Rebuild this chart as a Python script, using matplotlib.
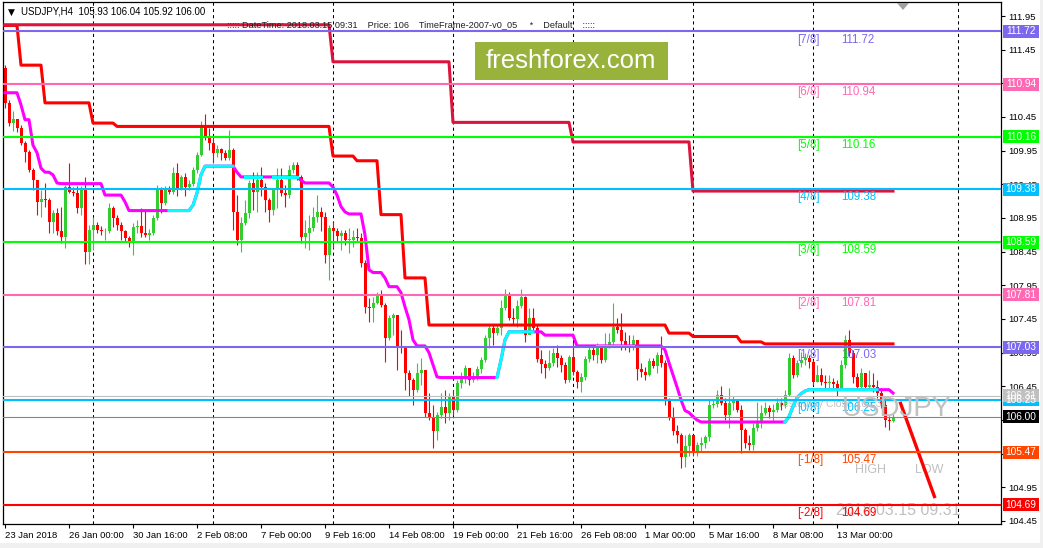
import matplotlib
matplotlib.use("Agg")
import matplotlib.pyplot as plt
import matplotlib.transforms as mtrans
from matplotlib.patches import Rectangle, Polygon
import numpy as np

plt.rcParams['font.family'] = ['Liberation Sans', 'DejaVu Sans']

W, H = 1043, 548

# USDJPY H4 candles (open of each bar = previous close)
first_open = 111.18
closes = [
    110.66, 110.36, 110.42, 110.28, 110.06, 109.93, 109.66, 109.51, 109.19, 109.23,
    109.21, 108.89, 109.03, 108.75, 108.67, 109.41, 109.34, 109.32, 109.10, 109.40,
    108.45, 108.77, 108.85, 108.77, 108.75, 108.75, 109.10, 108.95, 108.85, 108.75,
    108.66, 108.58, 108.82, 108.83, 108.73, 108.70, 108.73, 108.95, 109.37, 109.18,
    109.40, 109.34, 109.62, 109.37, 109.56, 109.41, 109.46, 109.66, 109.89, 110.31,
    110.16, 110.06, 109.92, 109.98, 109.92, 109.84, 109.96, 109.04, 108.62, 108.88,
    109.03, 109.47, 109.34, 109.51, 109.41, 109.22, 109.07, 109.37, 109.51, 109.32,
    109.29, 109.66, 109.74, 109.56, 108.67, 108.73, 108.80, 108.97, 109.04, 108.97,
    108.40, 108.80, 108.75, 108.68, 108.73, 108.62, 108.62, 108.67, 108.66, 108.28,
    107.63, 107.61, 107.69, 107.81, 107.66, 107.17, 107.46, 107.51, 107.03, 107.02,
    106.65, 106.55, 106.40, 106.65, 106.69, 106.06, 106.00, 105.78, 106.03, 106.15,
    106.06, 106.29, 106.10, 106.50, 106.59, 106.72, 106.55, 106.59, 106.71, 106.84,
    107.17, 107.32, 107.24, 107.32, 107.61, 107.81, 107.46, 107.45, 107.64, 107.78,
    107.21, 107.46, 107.32, 106.86, 106.78, 106.72, 106.80, 106.95, 106.87, 106.77,
    106.55, 106.89, 106.67, 106.52, 106.59, 106.86, 106.99, 106.92, 107.02, 106.84,
    107.06, 107.11, 107.33, 107.29, 107.12, 107.06, 107.03, 107.14, 106.71, 106.67,
    106.62, 106.83, 106.75, 106.92, 106.80, 106.25, 106.00, 105.78, 105.73, 105.40,
    105.57, 105.73, 105.48, 105.58, 105.61, 105.69, 106.17, 106.19, 106.32, 106.20,
    106.03, 106.20, 106.25, 106.10, 105.80, 105.61, 105.58, 105.83, 105.91, 106.06,
    106.13, 106.07, 106.10, 106.20, 106.17, 106.32, 106.87, 106.62, 106.80, 106.84,
    106.87, 106.81, 106.52, 106.62, 106.52, 106.50, 106.52, 106.49, 106.40, 106.77,
    107.14, 106.95, 106.59, 106.44, 106.65, 106.44, 106.47, 106.44, 106.35, 106.17,
    105.95, 105.93, 106.00,
]
highs = [
    111.22, 110.70, 110.54, 110.42, 110.33, 110.09, 109.96, 109.69, 109.51, 109.37,
    109.47, 109.25, 109.07, 109.10, 109.12, 109.44, 109.77, 109.41, 109.43, 109.43,
    109.56, 108.85, 108.97, 108.89, 108.83, 108.80, 109.18, 109.13, 109.00, 108.89,
    108.77, 108.68, 108.88, 108.92, 109.10, 109.07, 108.79, 109.00, 109.44, 109.41,
    109.43, 109.43, 109.71, 109.77, 109.59, 109.62, 109.51, 109.71, 109.93, 110.39,
    110.49, 110.28, 110.16, 110.03, 109.99, 109.96, 110.26, 109.99, 109.29, 108.96,
    109.22, 109.51, 109.63, 109.63, 109.71, 109.47, 109.25, 109.40, 109.69, 109.69,
    109.44, 109.74, 109.78, 109.78, 109.59, 108.92, 109.00, 109.12, 109.29, 109.12,
    109.04, 108.85, 108.89, 108.80, 108.77, 108.77, 108.80, 108.77, 108.80, 108.73,
    108.33, 107.76, 107.78, 107.85, 107.88, 107.69, 107.51, 107.54, 107.46, 107.29,
    106.99, 106.69, 106.58, 106.80, 106.87, 106.69, 106.35, 106.17, 106.07, 106.35,
    106.40, 106.35, 106.40, 106.55, 106.66, 106.77, 106.72, 106.66, 106.75, 106.89,
    107.21, 107.36, 107.36, 107.36, 107.73, 107.90, 107.85, 107.61, 107.73, 107.90,
    107.79, 107.61, 107.61, 107.36, 106.99, 106.84, 106.99, 107.02, 107.06, 106.92,
    106.81, 106.92, 107.11, 106.69, 106.65, 106.90, 107.06, 107.04, 107.10, 107.06,
    107.24, 107.24, 107.69, 107.46, 107.54, 107.26, 107.21, 107.21, 107.11, 106.80,
    106.74, 106.87, 106.87, 106.96, 107.20, 106.84, 106.28, 106.15, 105.88, 105.76,
    105.73, 105.76, 105.69, 105.63, 105.69, 105.73, 106.25, 106.25, 106.40, 106.46,
    106.28, 106.43, 106.31, 106.25, 106.17, 105.83, 105.73, 105.91, 106.22, 106.17,
    106.22, 106.17, 106.19, 106.28, 106.28, 106.40, 106.95, 106.92, 106.84, 106.96,
    106.95, 106.92, 106.84, 106.77, 106.72, 106.62, 106.62, 106.58, 106.55, 106.84,
    107.21, 107.29, 106.99, 106.65, 106.72, 106.62, 106.69, 106.65, 106.55, 106.43,
    106.28, 106.01, 106.04,
]
lows = [
    110.58, 110.31, 110.24, 110.22, 110.03, 109.78, 109.63, 109.37, 109.00, 108.97,
    109.12, 108.73, 108.73, 108.70, 108.58, 108.51, 109.32, 109.28, 109.03, 109.00,
    108.27, 108.27, 108.48, 108.73, 108.70, 108.63, 108.72, 108.82, 108.77, 108.63,
    108.60, 108.52, 108.40, 108.73, 108.67, 108.67, 108.63, 108.70, 108.92, 109.03,
    109.15, 109.30, 109.31, 109.27, 109.37, 109.27, 109.37, 109.43, 109.62, 109.87,
    110.11, 109.96, 109.77, 109.86, 109.81, 109.81, 109.81, 108.77, 108.55, 108.45,
    108.85, 108.95, 109.07, 109.04, 109.28, 109.04, 108.89, 109.00, 109.10, 109.28,
    109.12, 109.25, 109.62, 109.51, 108.58, 108.51, 108.48, 108.75, 108.89, 108.75,
    108.28, 108.03, 108.51, 108.60, 108.48, 108.55, 108.43, 108.52, 108.60, 108.22,
    107.54, 107.40, 107.40, 107.67, 107.63, 106.81, 107.14, 107.21, 106.69, 106.95,
    106.40, 106.30, 106.17, 106.37, 106.47, 106.00, 105.95, 105.54, 105.66, 105.98,
    105.91, 105.95, 106.03, 106.07, 106.43, 106.50, 106.47, 106.52, 106.55, 106.65,
    106.81, 107.02, 107.06, 107.21, 107.21, 107.58, 107.44, 107.36, 107.33, 107.61,
    107.11, 107.29, 107.26, 106.81, 106.65, 106.58, 106.69, 106.75, 106.74, 106.66,
    106.50, 106.52, 106.62, 106.43, 106.37, 106.55, 106.81, 106.84, 106.80, 106.80,
    106.81, 107.02, 107.03, 107.24, 106.99, 106.99, 106.96, 106.99, 106.55, 106.59,
    106.55, 106.60, 106.72, 106.65, 106.74, 106.17, 105.95, 105.73, 105.61, 105.24,
    105.25, 105.42, 105.42, 105.42, 105.48, 105.54, 105.64, 106.13, 106.15, 106.17,
    105.95, 105.83, 106.10, 106.07, 105.46, 105.54, 105.51, 105.51, 105.78, 105.83,
    106.03, 105.98, 105.92, 106.07, 106.10, 106.13, 106.30, 106.58, 106.59, 106.74,
    106.77, 106.72, 106.47, 106.52, 106.47, 106.43, 106.43, 106.43, 106.30, 106.40,
    106.72, 106.90, 106.50, 106.40, 106.40, 106.40, 106.40, 106.37, 106.28, 106.13,
    105.85, 105.80, 105.92,
]

# step channel (red) and higher timeframe channel (crimson): first bar of each step
red_start = [0, 4, 10, 22, 28, 82, 88, 94, 100, 106, 166, 172, 184, 190]
red_level = [111.81, 111.22, 110.66, 110.36, 110.31, 109.87, 109.80, 109.00,
             108.06, 107.36, 107.24, 107.19, 107.11, 107.08]
crim_start = [0, 82, 112, 142, 172]
crim_level = [111.82, 111.27, 110.37, 110.08, 109.35]

# trend line vertices (magenta, cyan where trend is up)
trend_bar = [0, 3, 4, 5, 6, 7, 8, 9, 10, 11, 12, 13, 14, 24, 25, 29, 30, 31, 41, 46,
             47, 48, 49, 50, 57, 58, 59, 60, 64, 67, 73, 74, 75, 81, 82, 83, 84, 85,
             86, 89, 90, 91, 92, 94, 95, 96, 98, 99, 100, 101, 102, 103, 105, 106,
             107, 108, 109, 123, 124, 125, 126, 132, 134, 135, 142, 143, 148, 157,
             164, 165, 166, 167, 168, 169, 170, 171, 172, 173, 174, 195, 196, 197,
             198, 199, 200, 201, 218, 221, 222]
trend_val = [110.81, 110.81, 110.63, 110.41, 110.41, 110.03, 109.92, 109.69, 109.63,
             109.63, 109.59, 109.47, 109.46, 109.46, 109.29, 109.29, 109.19, 109.06,
             109.06, 109.06, 109.14, 109.32, 109.59, 109.72, 109.72, 109.63, 109.56,
             109.56, 109.56, 109.56, 109.56, 109.51, 109.47, 109.47, 109.41, 109.29,
             109.12, 109.04, 109.01, 109.01, 108.70, 108.18, 108.14, 108.14, 108.06,
             107.93, 107.93, 107.84, 107.63, 107.44, 107.14, 107.05, 107.05, 106.95,
             106.77, 106.59, 106.58, 106.58, 106.84, 107.14, 107.26, 107.26, 107.26,
             107.21, 107.21, 107.05, 107.05, 107.05, 107.05, 106.99, 106.80, 106.62,
             106.44, 106.25, 106.09, 106.06, 106.00, 105.95, 105.92, 105.92, 106.00,
             106.15, 106.28, 106.34, 106.38, 106.40, 106.40, 106.40, 106.35]
up_ranges = [(41, 57), (60, 64), (67, 73), (123, 132), (148, 157), (195, 218)]

# Murrey math levels
level_names = ['[7/8]', '[6/8]', '[5/8]', '[4/8]', '[3/8]', '[2/8]', '[1/8]', '[0/8]', '[-1/8]', '[-2/8]']
level_values = [111.72, 110.94, 110.16, 109.38, 108.59, 107.81, 107.03, 106.25, 105.47, 104.69]
level_colors = ['#7b68ee', '#ff69b4', '#00ff00', '#00bfff', '#00ff00', '#ff69b4', '#7b68ee',
                '#00bfff', '#ff4500', '#ff0000']
yesterday_close = 106.31

tick_bars = [0, 16, 32, 48, 64, 80, 96, 112, 128, 144, 160, 176, 192, 208]
tick_labels = ['23 Jan 2018', '26 Jan 00:00', '30 Jan 16:00', '2 Feb 08:00', '7 Feb 00:00',
               '9 Feb 16:00', '14 Feb 08:00', '19 Feb 00:00', '21 Feb 16:00', '26 Feb 08:00',
               '1 Mar 00:00', '5 Mar 16:00', '8 Mar 08:00', '13 Mar 00:00']
price_ticks = [104.45, 104.95, 105.45, 105.95, 106.45, 106.95, 107.45, 107.95,
               108.45, 108.95, 109.45, 109.95, 110.45, 110.95, 111.45, 111.95]
hidden_ticks = [105.45, 105.95, 110.95]   # covered by the price boxes
grid_bars = [22, 52, 82, 112, 142, 172, 202, 238.25]

# projection segment (bar, price)
proj_bar = [223.75, 232.5]
proj_val = [106.22, 104.79]


def fx(x):
    return x / W


def fy(y):
    return 1 - y / H


fig = plt.figure(figsize=(W / 100, H / 100), dpi=100)
fig.patch.set_facecolor('white')
ax = fig.add_axes([fx(3), fy(524), 998 / W, 522 / H])
ax.set_xlim(-0.5, 249)
ax.set_ylim(104.405, 112.158)

n = len(closes)
bars = np.arange(n)
o = np.array([first_open] + closes[:-1])
c = np.array(closes)
colors = np.where(c >= o, '#32cd32', '#ff0000')

for b in grid_bars:
    ax.axvline(b, color='black', lw=0.75, ls=(0, (3, 3)), zorder=0.5)

ax.vlines(bars, lows, highs, colors=colors, lw=0.8, zorder=2)
ax.bar(bars, np.maximum(np.abs(c - o), 0.012), bottom=np.minimum(o, c), width=0.75,
       color=colors, lw=0, zorder=2.1)

# silver watermark texts
sil = '#c0c0c0'
ax.text(193, 106.26, 'Yesterday Close 106.31', color=sil, fontsize=7.5, va='top', zorder=2.5)
ax.text(209.2, 106.11, 'USDJPY', color=sil, fontsize=20, va='center', zorder=5.5)
ax.text(212.5, 105.21, 'HIGH', color=sil, fontsize=9, va='center', zorder=2.5)
ax.text(227.5, 105.21, 'LOW', color=sil, fontsize=9, va='center', zorder=2.5)
ax.text(207.8, 104.60, '2018.03.15 09.31', color=sil, fontsize=11.5, va='center', zorder=2.5)

# indicators
red_line = np.repeat(red_level, np.diff(red_start + [n]))
crim_line = np.repeat(crim_level, np.diff(crim_start + [n]))
ax.plot(bars, red_line, color='#ff0000', lw=2.2, zorder=3)
ax.plot(bars, crim_line, color='#dc143c', lw=2.2, zorder=3.1)

tb = np.array(trend_bar)
tv = np.array(trend_val)
ax.plot(tb, tv, color='#ff00ff', lw=2.2, zorder=3.2)
for a, b in up_ranges:
    m = (tb >= a) & (tb <= b)
    ax.plot(tb[m], tv[m], color='#00ffff', lw=2.2, zorder=3.3)

ax.plot(proj_bar, proj_val, color='#ff0000', lw=2.4, zorder=3.4, solid_capstyle='butt')

# levels
ytr = mtrans.blended_transform_factory(ax.transAxes, ax.transData)
box_h = 13 / 67.33


def price_box(v, fc, tc='white'):
    ax.add_patch(Rectangle((1.002, v - box_h / 2), 0.036, box_h, transform=ytr, fc=fc,
                           ec='none', clip_on=False, zorder=10))
    ax.text(1.02, v, f'{v:.2f}', transform=ytr, ha='center', va='center', color=tc,
            fontsize=7.3, clip_on=False, zorder=11)


for name, v, col in zip(level_names, level_values, level_colors):
    ax.axhline(v, color=col, lw=1.5, zorder=4)
    ax.annotate(name, (198, v), xytext=(0, -1.5), textcoords='offset points',
                color=col, fontsize=8.3, va='top', zorder=5)
    ax.annotate(f'{v:.2f}', (209, v), xytext=(0, -1.5), textcoords='offset points',
                color=col, fontsize=8.3, va='top', zorder=5)

ax.axhline(yesterday_close, color='#c0c0c0', lw=0.8, zorder=4)
ax.axhline(closes[-1], color='#778899', lw=0.8, zorder=4)

for v, col in zip(level_values, level_colors):
    if v != 106.25:
        price_box(v, col)
price_box(106.25, '#00bfff')
price_box(yesterday_close, '#c0c0c0')
price_box(closes[-1], 'black')

# axes styling
ax.set_xticks(tick_bars)
ax.set_xticklabels(tick_labels, ha='left', fontsize=6.8)
ax.set_yticks(price_ticks)
ax.set_yticklabels(['' if v in hidden_ticks else f'{v:.2f}' for v in price_ticks], fontsize=6.8)
ax.tick_params(axis='x', length=3, width=0.8, pad=2)
ax.tick_params(axis='y', left=False, right=True, labelleft=False, labelright=True,
               length=3, width=0.8, pad=2)
for s in ax.spines.values():
    s.set_linewidth(0.9)
    s.set_color('black')

# header texts
fig.text(fx(8), fy(12), '\u25bc', fontsize=6.5, va='center', family=['DejaVu Sans'])
fig.text(fx(21), fy(12), f'USDJPY,H4  {o[-1]:.2f} {highs[-1]:.2f} {lows[-1]:.2f} {closes[-1]:.2f}',
         fontsize=7, va='center', zorder=20)
fig.text(fx(227), fy(25), '::::: DateTime: 2018.03.15 09:31    Price: 106    '
         'TimeFrame-2007-v0_05     *    Default    :::::',
         fontsize=6.6, va='center', color='#202020', zorder=20)

# watermark
fig.patches.append(Rectangle((fx(475), fy(80)), 193 / W, 38 / H, transform=fig.transFigure,
                             fc='#98b23c', ec='none', zorder=20))
fig.text(fx(571), fy(61), 'freshforex.com', color='white', fontsize=18.5, ha='center',
         va='center', zorder=21)

# chart shift marker and frame bands
fig.patches.append(Polygon([(fx(897), fy(3)), (fx(909), fy(3)), (fx(903), fy(10))],
                           closed=True, transform=fig.transFigure, fc='#a0a0a0', ec='none'))
fig.patches.append(Rectangle((0, 0), 1, 5 / H, transform=fig.transFigure, fc='#f0f0f0', ec='none'))
fig.patches.append(Rectangle((fx(1040), 0), 3 / W, 1, transform=fig.transFigure, fc='#f0f0f0', ec='none'))

fig.savefig('out.png', dpi=100)
